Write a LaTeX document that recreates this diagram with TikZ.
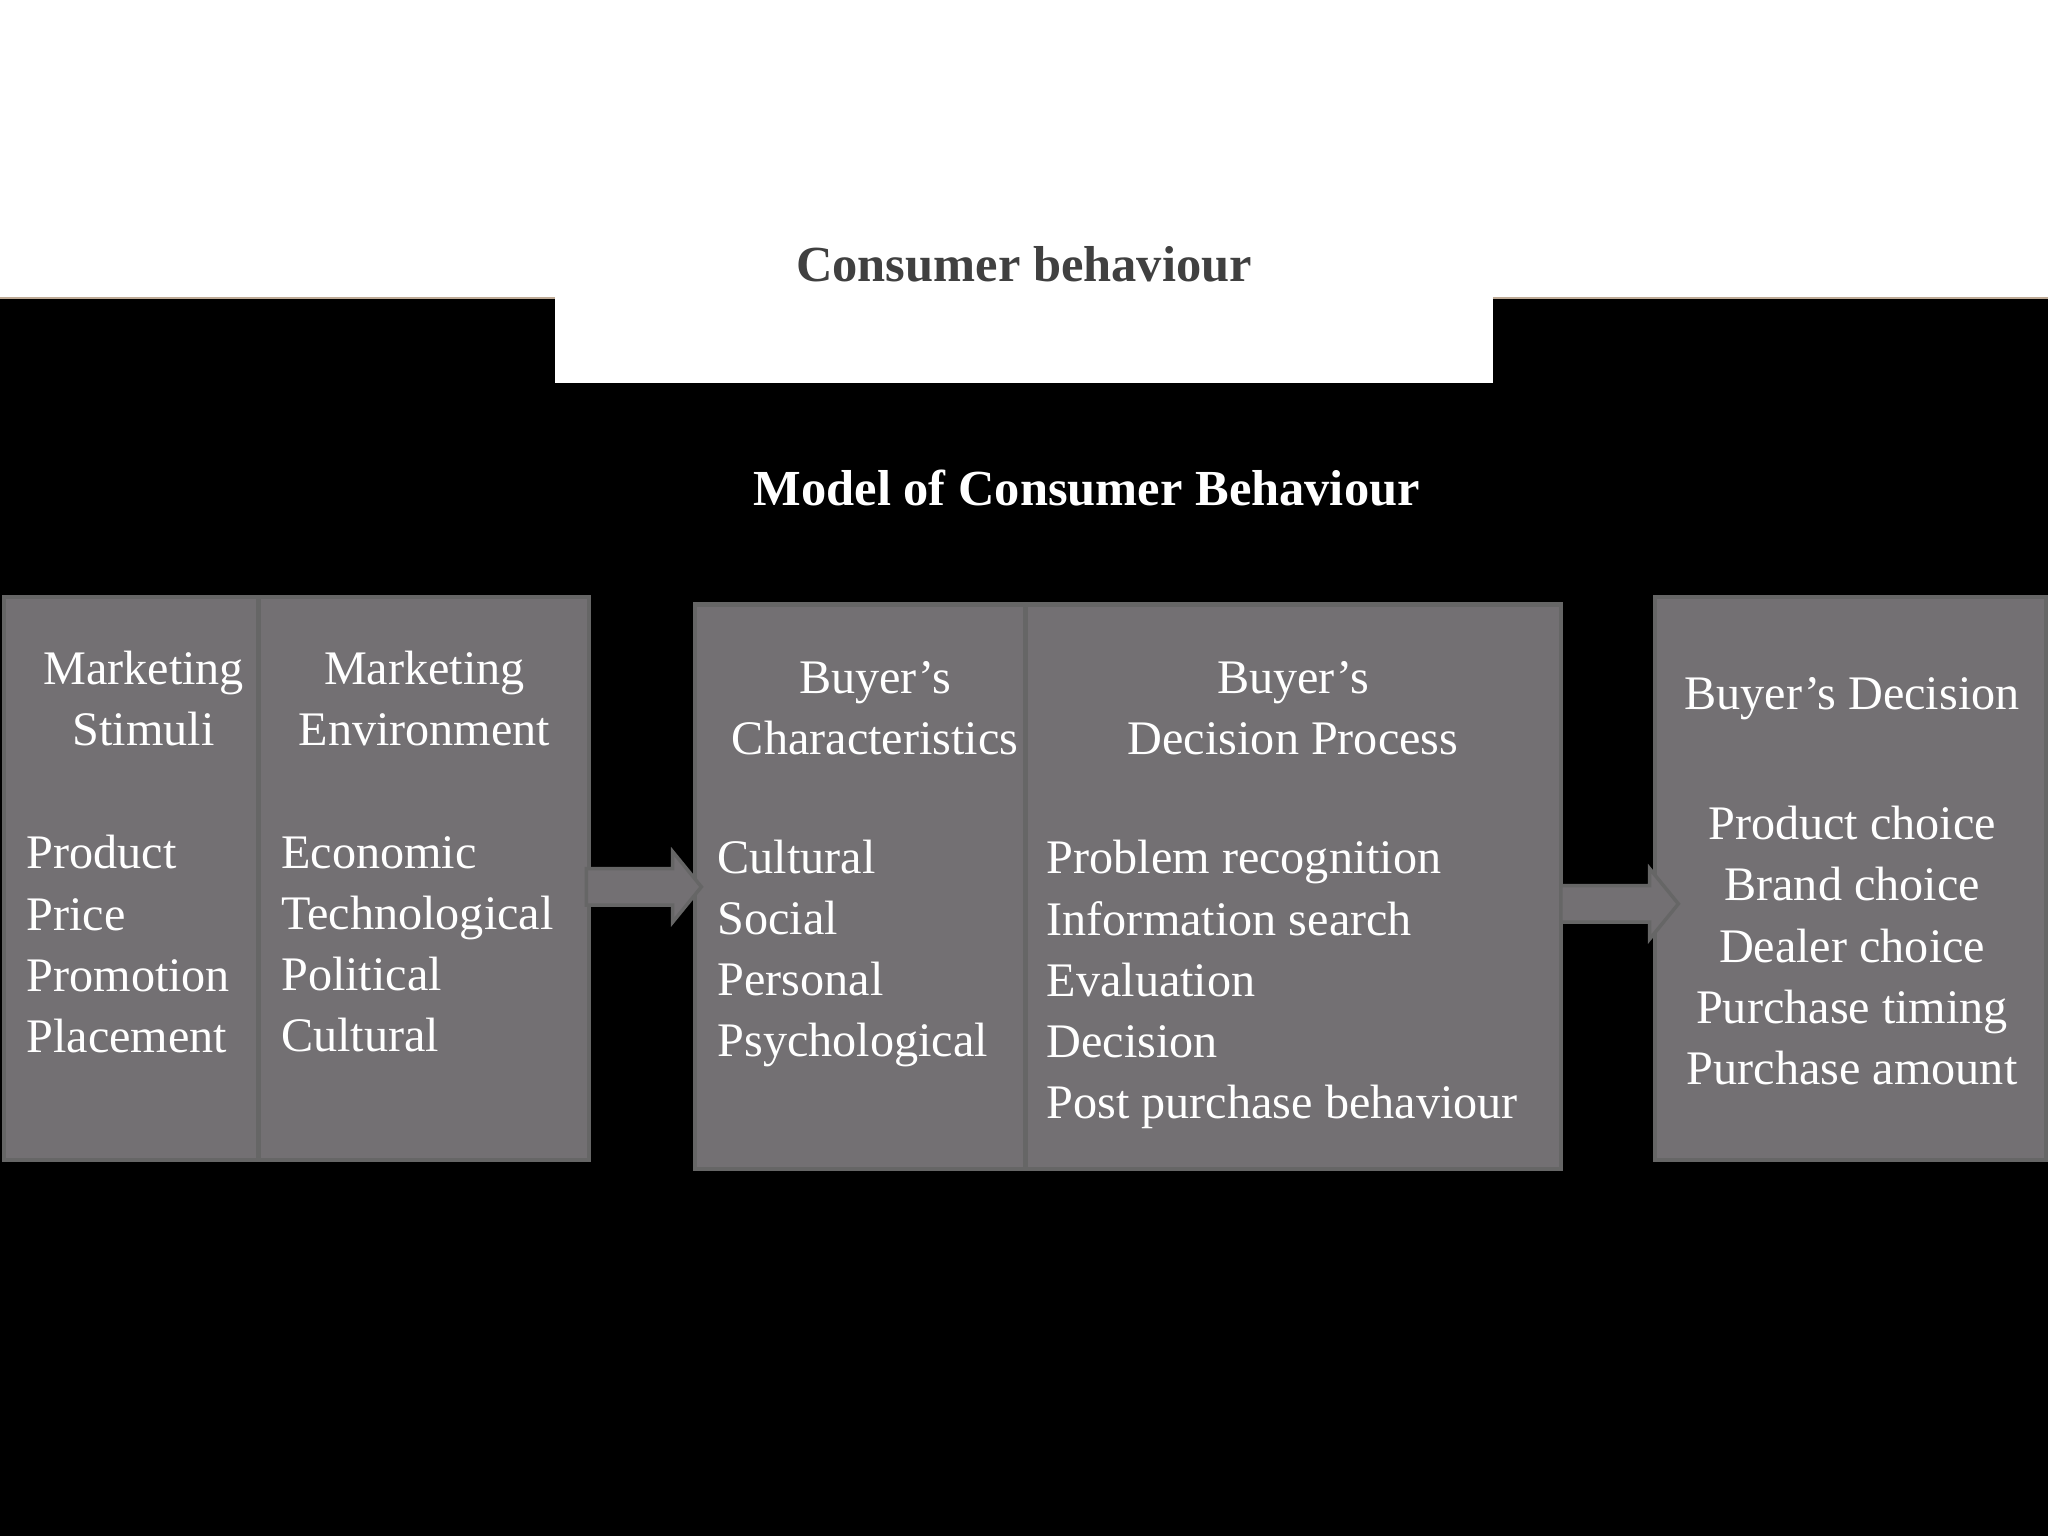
\documentclass[tikz,border=0pt]{standalone}
\usepackage{fontspec}
\setmainfont{Liberation Serif}
\begin{document}
\begin{tikzpicture}[x=0.02cm,y=-0.02cm,
  box/.style={draw=black!60,line width=2pt,fill=boxgray},
  txt/.style={text=white,font=\fontsize{21}{26.7}\selectfont,inner sep=0pt},
  arr/.style={fill=boxgray,draw=black!60,line width=1.5pt}]
\definecolor{boxgray}{HTML}{737073}
\useasboundingbox (0,0) rectangle (1568,1176);
\fill[white] (0,0) rectangle (1568,228);
\fill[black] (0,228) rectangle (1568,1176);
\fill[white] (425,226) rectangle (1143,293);
\draw[color={rgb,255:red,190;green,170;blue,150},line width=1pt] (0,228) -- (425,228) (1143,228) -- (1568,228);
\node[font=\bfseries\fontsize{22}{26}\selectfont,text=black!75] (t1) at (784,202) {Consumer behaviour};
\node[font=\bfseries\fontsize{22}{26}\selectfont,text=white] (t2) at (832,374) {Model of Consumer Behaviour};
\draw[box] (3,457) rectangle (198,888) node (b1) {};
\draw[box] (198,457) rectangle (451,888) node (b2) {};
\draw[box] (532,463) rectangle (785,895) node (b3) {};
\draw[box] (785,463) rectangle (1195,895) node (b4) {};
\draw[box] (1267,457) rectangle (1567,888) node (b5) {};
\draw[arr] (449,665) -- (515,665) -- (515,652) -- (537,679) -- (515,706) -- (515,693) -- (449,693) -- cycle;
\draw[arr] (1195,678) -- (1263,678) -- (1263,665) -- (1285,692) -- (1263,719) -- (1263,706) -- (1195,706) -- cycle;
\node[txt,align=center] (h1) at (110,535) {Marketing\\Stimuli};
\node[txt,align=center] (h2) at (325,535) {Marketing\\Environment};
\node[txt,align=center] (h3) at (670,542) {Buyer’s\\Characteristics};
\node[txt,align=center] (h4) at (990,542) {Buyer’s\\Decision Process};
\node[txt,align=center] (h5) at (1418,535) {Buyer’s Decision};
\node[txt,align=left,anchor=west] (l1) at (20,723) {Product\\Price\\Promotion\\Placement};
\node[txt,align=left,anchor=west] (l2) at (215,723) {Economic\\Technological\\Political\\Cultural};
\node[txt,align=left,anchor=west] (l3) at (549,730) {Cultural\\Social\\Personal\\Psychological};
\node[txt,align=left,anchor=west] (l4) at (801,754) {Problem recognition\\Information search\\Evaluation\\Decision\\Post purchase behaviour};
\node[txt,align=center] (l5) at (1418,724) {Product choice\\Brand choice\\Dealer choice\\Purchase timing\\Purchase amount};
\end{tikzpicture}
\end{document}
